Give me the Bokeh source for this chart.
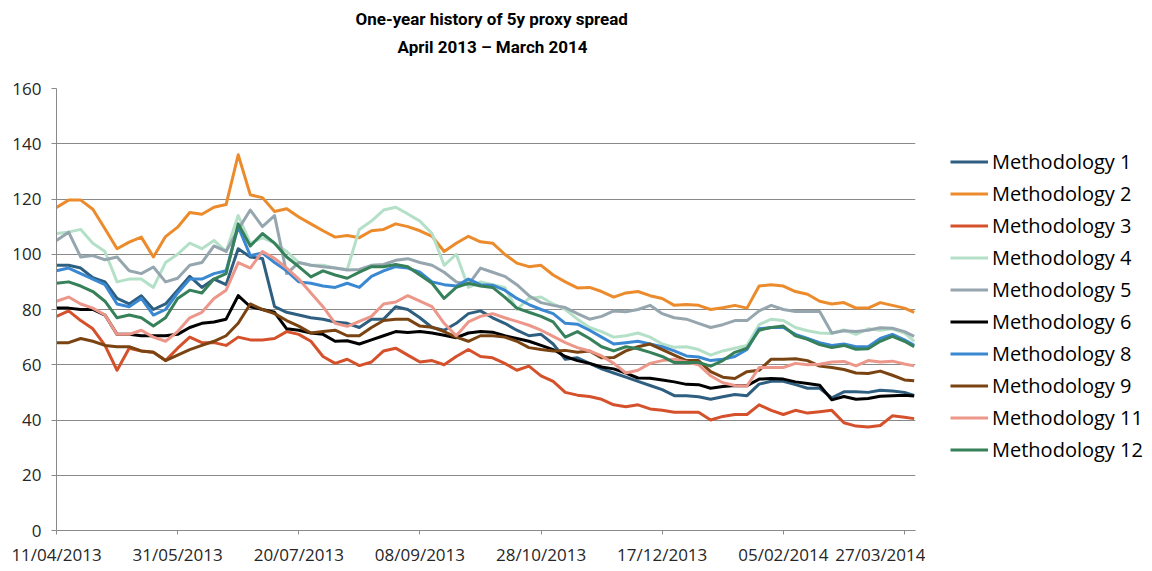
import pandas as pd
from bokeh.plotting import figure
from bokeh.layouts import row
from bokeh.models import (Range1d, FixedTicker, DatetimeTickFormatter, Legend,
                          LegendItem, Title)
from bokeh.embed import file_html
from bokeh.resources import INLINE

# ---------------- data ----------------
title_lines = ["One-year history of 5y proxy spread", "April 2013 \u2013 March 2014"]
tick_dates = ["2013-04-11", "2013-05-31", "2013-07-20", "2013-09-08",
              "2013-10-28", "2013-12-17", "2014-02-05", "2014-03-27"]
y_ticks = [0, 20, 40, 60, 80, 100, 120, 140, 160]
series_names = ["Methodology 1", "Methodology 2", "Methodology 3", "Methodology 4",
                "Methodology 5", "Methodology 6", "Methodology 8", "Methodology 9",
                "Methodology 11", "Methodology 12"]
series_colors = ["#2F5F80", "#EC8B2C", "#D5512B", "#B4E0C8", "#96A6AF",
                 "#000000", "#3B88D2", "#7A4412", "#EC978A", "#36815A"]

# observation dates: every 5 days from 11/04/2013, plus 31/03/2014
dates = list(pd.date_range("2013-04-11", periods=71, freq="5D")) + [pd.Timestamp("2014-03-31")]

m1 = [96, 96, 95, 91.5, 90, 84, 82, 85, 80, 82, 87, 92,
      88, 91, 89, 102, 99, 98.5, 81, 79, 78, 77, 76.5, 75.5,
      75, 73.5, 76.5, 76.5, 81, 80, 77, 73.5, 72.5, 75, 78.5, 79.5,
      77, 75, 72.5, 70.5, 71, 67.5, 62, 62.5, 60.5, 58.5, 57, 55.5,
      54, 52.5, 51, 48.8, 48.8, 48.4, 47.5, 48.4, 49.2, 48.8, 53, 54,
      54, 52.8, 51.5, 51.5, 48, 50.2, 50.2, 50, 50.8, 50.5, 50, 48.9]
m2 = [116.9, 119.6, 119.6, 116.3, 109.2, 102, 104.4, 106.2, 99, 106.4, 109.8, 115.1,
      114.5, 117, 118, 136, 121.5, 120.5, 115.5, 116.5, 113.5, 111, 108.5, 106.2,
      106.8, 106, 108.5, 109, 111, 110, 108.5, 106.5, 101, 104, 106.5, 104.5,
      104, 100, 96.8, 95.5, 96, 92.5, 90, 87.8, 88, 86.5, 84.5, 86,
      86.5, 85, 84, 81.5, 81.8, 81.5, 80, 80.6, 81.5, 80.5, 88.5, 89,
      88.5, 86.5, 85.5, 83, 82, 82.5, 80.5, 80.5, 82.5, 81.5, 80.5, 79]
m3 = [77.5, 79.5, 76, 73, 67, 58, 66, 65, 64.5, 61.5, 66, 70,
      68, 68, 67, 70, 69, 69, 69.5, 72, 71, 68.5, 63, 60.5,
      62, 59.7, 61, 65, 66, 63.5, 61, 61.5, 60, 63, 65.5, 63,
      62.5, 60.5, 58, 59.5, 56, 54, 50, 49, 48.5, 47.5, 45.5, 44.8,
      45.5, 44, 43.5, 42.8, 42.8, 42.8, 40, 41.3, 42, 42, 45.5, 43.5,
      42, 43.5, 42.5, 43, 43.5, 39, 37.8, 37.5, 38, 41.5, 41, 40.5]
m4 = [107.5, 108, 109, 104, 101, 90, 91, 91, 88, 97, 100, 104,
      102, 105, 101, 114, 104, 106, 104, 101, 97, 96, 96, 95,
      94.5, 109, 112, 116, 117, 114.6, 112, 107.5, 96, 100, 88, 90,
      89, 88, 80, 84, 84.5, 82, 80, 76.5, 73.5, 72, 70, 70.5,
      71.5, 70, 67.5, 66.3, 66.5, 65.5, 63.5, 65, 66, 67, 74.5, 76.5,
      76, 73.5, 72.3, 71.5, 71.3, 72.6, 71, 73, 72.5, 73, 71.5, 68.5]
m5 = [105, 108, 99, 99.5, 98, 99, 94, 93, 95.4, 90, 91.3, 96,
      97, 103, 101, 109, 116, 110, 114, 93, 97, 96, 95.5, 95,
      94.3, 94.5, 96, 96.3, 97.8, 98.4, 97, 96, 93.5, 90, 89, 95,
      93.5, 92, 89, 85, 82.5, 81.5, 80.7, 78.5, 76.5, 77.5, 79.5, 79.2,
      80, 81.5, 78.5, 77, 76.5, 75, 73.5, 74.5, 76, 76, 79.5, 81.5,
      80, 79.3, 79.3, 79.3, 71.5, 72.3, 72, 72.5, 73.4, 73.2, 72, 70.3]
m6 = [80.5, 80.5, 80, 80, 78, 71, 71, 70.5, 70.5, 70.5, 71, 73.5,
      75, 75.5, 76.5, 85, 81, 80, 79, 73, 72.5, 71.5, 71, 68.5,
      68.7, 67.5, 69, 70.5, 72, 71.7, 72, 71.5, 70.7, 69.8, 71.5, 72,
      71.8, 70.5, 69.5, 68.5, 67, 65.5, 63, 61.5, 60.5, 59.2, 58.5, 57,
      55.2, 55.1, 54.5, 53.8, 52.9, 52.8, 51.5, 52.1, 52.5, 52.4, 54.8, 55,
      54.8, 53.8, 53.2, 52.6, 47.3, 48.5, 47.5, 47.8, 48.6, 48.8, 49, 48.7]
m8 = [94, 95, 93, 91, 89, 82, 81, 84, 78, 80, 86, 91,
      91, 93, 94, 110, 99.5, 100.5, 97, 94, 90, 89.5, 88.5, 88,
      89.5, 88, 92, 94, 95.5, 95, 93.5, 90, 89, 88.5, 91, 89,
      88.8, 87, 84, 81.8, 80, 78.5, 75, 74.7, 72.5, 70, 67.5, 68,
      68.5, 67.5, 66.5, 65, 63.2, 62.8, 61.5, 62, 63, 65.5, 73, 73.5,
      73.5, 71, 69.5, 68, 67, 67.5, 66.5, 66.5, 69.5, 71, 69, 67]
m9 = [68, 68, 69.5, 68.5, 67, 66.5, 66.5, 65, 64.5, 61.5, 63.5, 65.5,
      67, 68.5, 70.5, 75, 82, 80, 78.5, 76, 74, 71.5, 72, 72.5,
      70.5, 70.5, 73.5, 76, 76.5, 76.5, 74, 73.6, 72, 70, 68.5, 70.5,
      70.5, 70, 68.5, 66.2, 65.5, 65, 65.2, 64.5, 65, 62.5, 62.6, 65,
      66.5, 67.5, 65.5, 63.5, 61.5, 61.5, 57.5, 55.5, 55, 57.5, 58, 62,
      62, 62.2, 61.5, 59.5, 59, 58.3, 57, 56.8, 57.7, 56.2, 54.5, 54.2]
m11 = [83, 84.5, 82, 80.5, 78, 71, 71, 72.5, 70, 68.5, 72, 77,
       79, 84, 87, 97, 95, 101, 98.5, 95, 91, 86, 81, 75,
       73.9, 75.7, 77.5, 82, 82.7, 85, 83, 81, 75, 70.5, 75.5, 77.5,
       78.5, 77, 75.7, 74.3, 72.5, 70.3, 68, 66.2, 65, 63.2, 60.5, 57,
       58, 60.5, 61.5, 62, 61, 60, 56, 53.5, 52.5, 52.3, 59, 59,
       59, 60.5, 60, 60.2, 61, 61.2, 59.6, 61.5, 61, 61.3, 60.3, 59.6]
m12 = [89.5, 90, 88.5, 86.5, 83, 77, 78, 77, 74, 77, 84, 87,
       86, 91, 93, 111, 103, 107.5, 104, 99, 95.5, 91.8, 94, 92.5,
       91.3, 93.5, 95.5, 95.5, 96.3, 95.5, 92.5, 89.5, 84, 88, 89.5, 88.5,
       88, 84.5, 80.5, 79, 77.5, 75.5, 70, 72, 69.5, 66.5, 65, 66.5,
       65.8, 64.5, 63, 60.8, 60.8, 60.8, 59.5, 61.5, 64.5, 66, 72.5, 73.5,
       74, 70.5, 69.2, 67.3, 66.2, 67, 65.6, 65.8, 68.5, 70.3, 68.5, 66.5]

series_values = [m1, m2, m3, m4, m5, m6, m8, m9, m11, m12]

# ---------------- main chart ----------------
H = 568
x_start = pd.Timestamp("2013-04-11")
x_end = x_start + pd.Timedelta(days=354.55)

p = figure(width=925, height=H, x_axis_type="datetime", output_backend="svg",
           toolbar_location=None, min_border_left=56, min_border_right=10,
           min_border_top=87, min_border_bottom=35, title=None,
           x_range=Range1d(x_start, x_end), y_range=Range1d(0, 160))
p.outline_line_color = None
p.background_fill_color = "white"
p.border_fill_color = "white"

grid_col = "#8A8A8A"
p.xgrid.grid_line_color = None
p.ygrid.grid_line_color = grid_col
p.ygrid.grid_line_width = 1
p.yaxis.ticker = FixedTicker(ticks=y_ticks)
p.xaxis.ticker = FixedTicker(ticks=[pd.Timestamp(d).value / 1e6 for d in tick_dates])
fmt = "%d/%m/%Y"
p.xaxis.formatter = DatetimeTickFormatter(days=fmt, months=fmt, years=fmt,
                                          hours=fmt, hourmin=fmt)

for ax in (p.xaxis[0], p.yaxis[0]):
    ax.axis_line_color = grid_col
    ax.major_tick_line_color = grid_col
    ax.minor_tick_line_color = None
    ax.major_tick_in = 0
    ax.major_label_text_font = "Open Sans"
    ax.major_label_text_font_size = "17px"
    ax.major_label_text_color = "#262626"
p.yaxis.major_tick_out = 5
p.yaxis.major_label_standoff = 10
p.xaxis.major_tick_out = 4
p.xaxis.major_label_standoff = 8

for col, vals in zip(series_colors, series_values):
    p.line(dates, vals, line_color=col, line_width=3, line_join="round")

# title block (stacked outward from the plot: spacer, line 2, line 1)
tfont = dict(text_font="Roboto", text_font_style="bold", text_font_size="17px",
             text_color="#000000")
p.add_layout(Title(text=" ", standoff=10, align="center", **tfont), "above")
p.add_layout(Title(text=title_lines[1], standoff=0, align="left", offset=341, **tfont), "above")
p.add_layout(Title(text=title_lines[0], standoff=12, align="left", offset=299, **tfont), "above")

# ---------------- legend panel ----------------
lg = figure(width=225, height=H, output_backend="svg", toolbar_location=None,
            min_border=0, title=None, x_range=Range1d(0, 1), y_range=Range1d(0, 1))
lg.axis.visible = False
lg.grid.visible = False
lg.outline_line_color = None
lg.border_fill_color = "white"
lg.background_fill_color = "white"

items = []
for name, col, vals in zip(series_names, series_colors, series_values):
    # same series, outside this panel's view range; only its legend swatch shows
    r = lg.line(dates, vals, line_color=col, line_width=3)
    items.append(LegendItem(label=name, renderers=[r]))

legend = Legend(items=items, location=(25, 67), orientation="vertical",
                label_text_font="Open Sans", label_text_font_size="20px",
                label_text_color="#000000", glyph_width=38, glyph_height=23,
                label_height=23, label_standoff=4, spacing=5, padding=0,
                margin=0, border_line_color=None, background_fill_alpha=0)
lg.add_layout(legend)

layout = row(p, lg, spacing=0)
open("out.html", "w").write(file_html(layout, INLINE))
